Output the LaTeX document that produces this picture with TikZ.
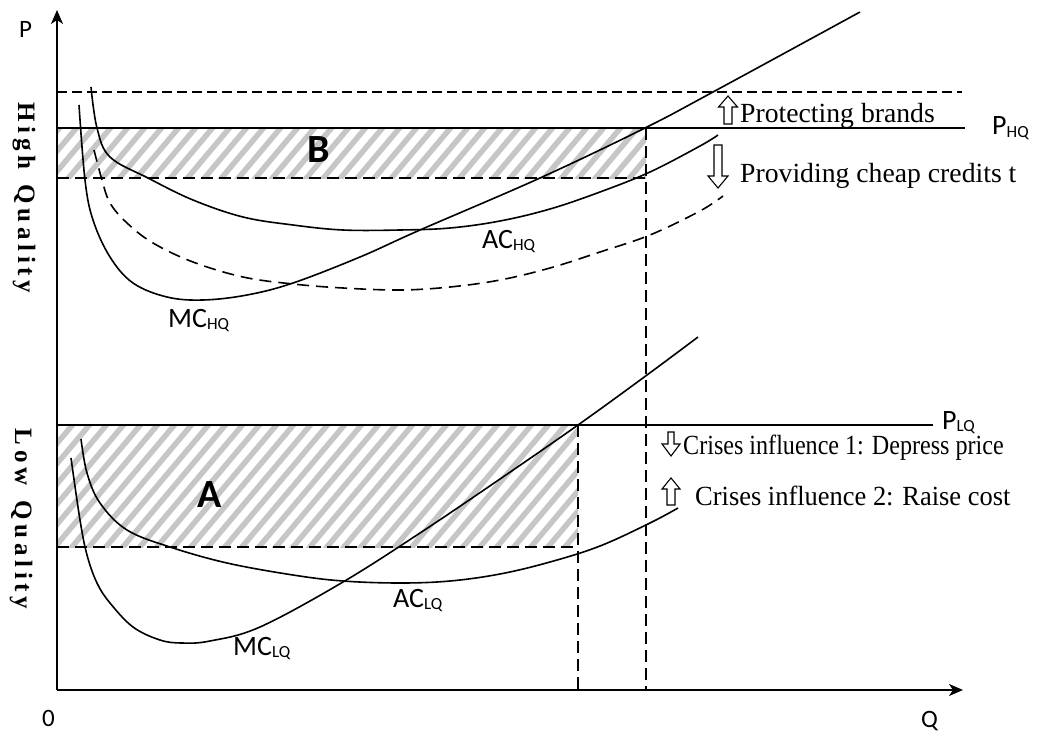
\documentclass[tikz,border=0pt]{standalone}
\usepackage{fontspec}
\setmainfont{Liberation Serif}
\newfontfamily\calibri{Carlito}
\usetikzlibrary{arrows.meta}
\begin{document}
\begin{tikzpicture}[x=1pt,y=-1pt,
  curve/.style={line width=1.6pt,black},
  dashcurve/.style={line width=1.6pt,black,dash pattern=on 12pt off 7pt},
  hline/.style={line width=1.4pt,black},
  dline/.style={line width=1.5pt,black,dash pattern=on 12pt off 6pt},
  topdline/.style={line width=1.4pt,black,dash pattern=on 10pt off 5pt},
  axis/.style={line width=1.8pt,black,-{Stealth[length=14pt,width=12pt,inset=4pt]}},
  hatch/.style={line width=5.5pt,gray!45},
  times/.style={inner sep=0pt,anchor=base west,font=\fontsize{27.7}{32}\selectfont},
  cal/.style={inner sep=0pt,anchor=base west,font=\calibri\fontsize{28}{32}\selectfont},
  axlabel/.style={inner sep=0pt,anchor=base west,font=\calibri\fontsize{25}{29}\selectfont},
  big/.style={inner sep=0pt,anchor=base west,font=\calibri\bfseries\fontsize{40}{46}\selectfont},
  side/.style={inner sep=0pt,rotate=-90,font=\bfseries\fontsize{25}{29}\selectfont},
  blockarrow/.style={line width=1.1pt,black,fill=white,line join=miter}
]
\useasboundingbox (0,0) rectangle (1059,733);
\newcommand{\sub}[1]{\raisebox{-2pt}{\fontsize{17}{19}\selectfont #1}}
\newcommand{\ls}{\kern4.6pt}

% hatched areas
\begin{scope}
  \clip (57,128) rectangle (646,178);
  \foreach \i in {-120,-103,...,700} \draw[hatch] (\i,200) -- ++(84,-100);
\end{scope}
\begin{scope}
  \clip (57,425) rectangle (578,547);
  \foreach \i in {-160,-143,...,640} \draw[hatch] (\i,560) -- ++(126,-150);
\end{scope}

% price / cost levels
\draw[topdline] (57,92) -- (962,92);
\draw[hline] (57,128) -- (965,128);
\draw[dline] (57,178) -- (646,178);
\draw[hline] (57,425) -- (933,425);
\draw[dline] (57,547) -- (578,547);
\draw[dline] (646,128) -- (646,690);
\draw[dline] (578,425) -- (578,690);

% high quality curves
\draw[curve] plot[smooth,tension=0.6] coordinates {(79,105) (85,180) (93,220) (110,257) (133,283) (167,297) (203,300) (247,295) (293,283) (360,257) (420,230) (540,178) (645,128) (713,92) (860,12)};
\draw[curve] plot[smooth,tension=0.6] coordinates {(91,87) (97,128) (110,157) (148,178) (193,200) (243,217) (293,225) (343,230) (400,230) (450,228) (500,221) (550,209) (600,192) (650,172) (700,146) (718,135)};
\draw[dashcurve] plot[smooth,tension=0.6] coordinates {(94,150) (102,180) (110,203) (127,223) (153,243) (193,262) (243,277) (293,284) (343,288) (400,290) (450,287) (500,280) (550,268) (600,252) (650,235) (700,211) (723,196)};

% low quality curves
\draw[curve] plot[smooth,tension=0.6] coordinates {(71,458) (80,520) (87,555) (97,583) (110,603) (133,627) (160,640) (182,643) (210,641) (260,627) (343,582) (420,533) (500,479) (578,425) (647,375) (698,337)};
\draw[curve] plot[smooth,tension=0.6] coordinates {(81,439) (87,473) (100,503) (127,530) (170,547) (227,563) (293,575) (343,581) (400,583) (450,581) (500,574) (550,562) (600,546) (650,523) (678,508)};

% axes
\coordinate (O) at (57,690);
\coordinate (Ytop) at (57,10);
\coordinate (Xend) at (963,690);
\draw[axis] (O) -- (Ytop);
\draw[axis] (O) -- (Xend);

% axis labels
\node[axlabel] (lblP) at (19,38) {P};
\node[axlabel] (lblQ) at (921,727) {Q};
\node[axlabel] (lbl0) at (42,726) {0};

% side labels
\node[side] (hq) at (24,198) {H\ls i\ls g\ls h\ls\ \ls Q\ls u\ls a\ls l\ls i\ls t\ls y};
\node[side] (lq) at (21,519) {L\ls o\ls w\ls\ \ls Q\ls u\ls a\ls l\ls i\ls t\ls y};

% curve labels
\node[cal] (mchq) at (168,327) {MC\sub{HQ}};
\node[cal] (achq) at (482,248) {AC\sub{HQ}};
\node[cal] (mclq) at (233,655) {MC\sub{LQ}};
\node[cal] (aclq) at (393,607) {AC\sub{LQ}};
\node[cal] (phq) at (992,135) {P\sub{HQ}};
\node[cal] (plq) at (942,429) {P\sub{LQ}};
\node[big] (B) at (307,162) {B};
\node[big] (A) at (197,507) {A};

% block arrows
\draw[blockarrow] (724,124) -- (724,107) -- (718.5,107) -- (728,96) -- (737.5,107) -- (732,107) -- (732,124) -- cycle;
\draw[blockarrow] (714,145) -- (714,176) -- (708,176) -- (718,188) -- (728,176) -- (722,176) -- (722,145) -- cycle;
\draw[blockarrow] (668,432) -- (668,444) -- (662,444) -- (671,456) -- (680,444) -- (674,444) -- (674,432) -- cycle;
\draw[blockarrow] (667,505) -- (667,489) -- (662,489) -- (671,478) -- (680,489) -- (675,489) -- (675,505) -- cycle;

% texts
\begin{scope}
  \clip (735,90) rectangle (1000,127);
  \node[times] (protect) at (740,122) {Protecting brands};
\end{scope}
\begin{scope}
  \clip (735,150) rectangle (1040,187);
  \node[times] (credit) at (740,182) {Providing cheap credits t};
\end{scope}
\node[times] (cris1) at (683,454) {\scalebox{0.87}[1]{Crises influence 1: Depress price}};
\node[times] (cris2) at (695,505) {\scalebox{0.955}[1]{Crises influence 2: Raise cost}};
\end{tikzpicture}
\end{document}
